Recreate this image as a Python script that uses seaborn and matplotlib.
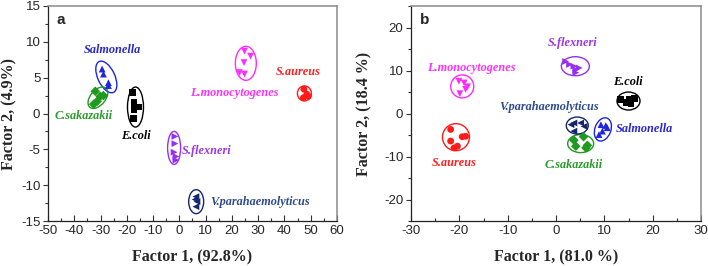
import numpy as np
import pandas as pd
import seaborn as sns
import matplotlib
matplotlib.use("Agg")
import matplotlib.pyplot as plt
from matplotlib.patches import Ellipse
from matplotlib.ticker import MultipleLocator
import matplotlib.transforms as mtransforms

# ---------------- data ----------------
species = ["Salmonella", "C.sakazakii", "E.coli", "S.flexneri",
           "V.parahaemolyticus", "L.monocytogenes", "S.aureus"]

# panel a (Factor 1 92.8%, Factor 2 4.9%)
a_x = {
    "Salmonella": [-29.4, -28.9, -27.0, -27.0],
    "C.sakazakii": [-32.0, -30.1, -28.9, -31.3, -32.6],
    "E.coli": [-17.9, -17.3, -15.4, -17.3, -17.5],
    "S.flexneri": [-1.7, -1.7, -2.0, -1.3, -1.3],
    "V.parahaemolyticus": [6.3, 6.7, 6.3, 6.0],
    "L.monocytogenes": [24.8, 27.1, 24.6, 22.9, 24.8],
    "S.aureus": [47.4, 48.5, 47.2, 49.1],
}
a_y = {
    "Salmonella": [6.2, 5.5, 4.3, 3.9],
    "C.sakazakii": [3.1, 2.4, 2.5, 1.7, 1.3],
    "E.coli": [2.9, 1.5, 0.9, 0.6, -0.7],
    "S.flexneri": [-3.2, -4.2, -5.4, -6.0, -6.5],
    "V.parahaemolyticus": [-11.6, -12.3, -13.0, -12.0],
    "L.monocytogenes": [8.7, 8.0, 7.1, 5.7, 5.5],
    "S.aureus": [3.4, 2.7, 2.2, 2.4],
}
# panel b (Factor 1 81.0%, Factor 2 18.4%)
b_x = {
    "Salmonella": [9.3, 10.3, 9.6, 8.9, 10.6],
    "C.sakazakii": [3.7, 5.7, 4.1, 6.5, 6.2],
    "E.coli": [13.4, 14.5, 15.1, 16.2, 15.5],
    "S.flexneri": [2.0, 2.8, 3.7, 4.1, 4.8, 4.1],
    "V.parahaemolyticus": [3.1, 3.7, 5.1, 5.8, 3.7],
    "L.monocytogenes": [-20.1, -19.0, -18.3, -18.7, -19.9],
    "S.aureus": [-21.8, -21.8, -20.4, -21.1, -19.4, -18.7],
}
b_y = {
    "Salmonella": [-2.6, -2.8, -4.1, -4.9, -3.3],
    "C.sakazakii": [-6.2, -5.4, -7.6, -7.4, -8.0],
    "E.coli": [3.3, 2.5, 3.3, 3.4, 2.3],
    "S.flexneri": [12.1, 11.4, 11.0, 10.2, 10.6, 9.5],
    "V.parahaemolyticus": [-2.6, -2.2, -2.2, -3.0, -4.1],
    "L.monocytogenes": [7.5, 7.1, 6.2, 5.6, 4.6],
    "S.aureus": [-3.7, -6.4, -7.6, -8.0, -5.4, -5.3],
}

# group label positions (data coords)
a_label_xy = {
    "Salmonella": (-25.5, 8.9), "C.sakazakii": (-36.6, -0.4),
    "E.coli": (-16.7, -3.2), "S.flexneri": (10.2, -5.3),
    "V.parahaemolyticus": (30.8, -12.3), "L.monocytogenes": (20.9, 2.9),
    "S.aureus": (45.4, 5.8),
}
b_label_xy = {
    "Salmonella": (18.2, -3.7), "C.sakazakii": (3.7, -11.9),
    "E.coli": (14.8, 7.3), "S.flexneri": (3.4, 16.4),
    "V.parahaemolyticus": (-1.4, 1.6), "L.monocytogenes": (-17.6, 10.5),
    "S.aureus": (-21.1, -11.5),
}
# enclosing ellipses: centre (data), width/height in pixels, angle
a_ell = {
    "Salmonella": (-27.8, 5.1, 17, 34, 25),
    "C.sakazakii": (-31.0, 2.2, 15, 25, -40),
    "E.coli": (-16.7, 0.9, 16, 40, 0),
    "S.flexneri": (-2.0, -4.8, 13, 33, 0),
    "V.parahaemolyticus": (6.4, -12.3, 15, 24, 0),
    "L.monocytogenes": (25.3, 7.0, 21, 34, 0),
    "S.aureus": (47.6, 2.8, 14, 15, 0),
}
b_ell = {
    "Salmonella": (9.7, -3.7, 16, 24, -20),
    "C.sakazakii": (5.1, -7.0, 26, 18, 0),
    "E.coli": (15.0, 2.9, 23, 18, 0),
    "S.flexneri": (4.0, 11.0, 28, 19, 0),
    "V.parahaemolyticus": (4.4, -2.8, 22, 17, 0),
    "L.monocytogenes": (-19.4, 6.3, 23, 23, 0),
    "S.aureus": (-20.7, -5.5, 27, 27, 0),
}

marker_colors = {
    "Salmonella": "#1f24e0", "C.sakazakii": "#1f9a1f", "E.coli": "#000000",
    "S.flexneri": "#9530f0", "V.parahaemolyticus": "#15256e",
    "L.monocytogenes": "#ff2cff", "S.aureus": "#ff1a1a",
}
label_colors = {
    "Salmonella": "#2727cc", "C.sakazakii": "#2a9a2a", "E.coli": "#000000",
    "S.flexneri": "#9a35e8", "V.parahaemolyticus": "#2d4b8c",
    "L.monocytogenes": "#ff30ff", "S.aureus": "#ff2020",
}
markers = {
    "Salmonella": "^", "C.sakazakii": "D", "E.coli": "s", "S.flexneri": ">",
    "V.parahaemolyticus": "<", "L.monocytogenes": "v", "S.aureus": "o",
}


def to_df(xd, yd):
    rows = []
    for sp in species:
        for x, y in zip(xd[sp], yd[sp]):
            rows.append((sp, x, y))
    return pd.DataFrame(rows, columns=["species", "f1", "f2"])


df_a = to_df(a_x, a_y)
df_b = to_df(b_x, b_y)

# ---------------- figure ----------------
sns.set_style("ticks")
plt.rcParams["font.family"] = ["Liberation Sans", "DejaVu Sans"]

W, H = 708, 266
fig = plt.figure(figsize=(W / 100, H / 100), dpi=100)
ax_a = fig.add_axes([48 / W, 1 - 221 / H, 289 / W, 215 / H])
ax_b = fig.add_axes([411 / W, 1 - 221 / H, 290 / W, 215 / H])

serif = ["Liberation Serif", "DejaVu Serif"]


def draw(ax, df, ells, labels, xlim, ylim, xmaj, xmin, ymaj, ymin,
         xlabel, ylabel, letter, ylab_x):
    sns.scatterplot(data=df, x="f1", y="f2", hue="species", style="species",
                    palette=marker_colors, markers=markers, s=24,
                    edgecolor="none", legend=False, ax=ax, zorder=3)
    for sp in species:
        cx, cy, w, h, ang = ells[sp]
        tr = fig.dpi_scale_trans + mtransforms.ScaledTranslation(cx, cy, ax.transData)
        e = Ellipse((0, 0), w / 100, h / 100, angle=ang, transform=tr,
                    fill=False, edgecolor=marker_colors[sp], lw=1.0, zorder=2)
        ax.add_patch(e)
        lx, ly = labels[sp]
        ax.text(lx, ly, sp, color=label_colors[sp], family=serif,
                style="italic", weight="bold", fontsize=8.8,
                ha="center", va="center", zorder=4)
    ax.set_xlim(*xlim)
    ax.set_ylim(*ylim)
    ax.xaxis.set_major_locator(MultipleLocator(xmaj))
    ax.xaxis.set_minor_locator(MultipleLocator(xmin))
    ax.yaxis.set_major_locator(MultipleLocator(ymaj))
    ax.yaxis.set_minor_locator(MultipleLocator(ymin))
    ax.tick_params(axis="x", which="both", direction="in", top=False,
                   labelsize=9.5, color="#333333", pad=3)
    ax.tick_params(axis="x", which="major", length=4, width=0.8)
    ax.tick_params(axis="x", which="minor", length=2.5, width=0.8)
    ax.tick_params(axis="y", which="both", direction="out", right=False,
                   labelsize=9.5, color="#333333", pad=2)
    ax.tick_params(axis="y", which="major", length=3.5, width=0.8)
    ax.tick_params(axis="y", which="minor", length=2, width=0.8)
    ax.xaxis.set_major_formatter(matplotlib.ticker.FuncFormatter(
        lambda v, p: f"{v:.0f}".replace("\u2212", "-")))
    ax.yaxis.set_major_formatter(matplotlib.ticker.FuncFormatter(
        lambda v, p: f"{v:.0f}".replace("\u2212", "-")))
    for side in ["left", "bottom"]:
        ax.spines[side].set_color("#222222")
        ax.spines[side].set_linewidth(0.9)
    for side in ["top", "right"]:
        ax.spines[side].set_visible(True)
        ax.spines[side].set_color("#8a8a8a")
        ax.spines[side].set_linewidth(1.1)
    ax.set_xlabel(xlabel, family=serif, weight="bold", fontsize=11.5, labelpad=9)
    ax.set_ylabel(ylabel, family=serif, weight="bold", fontsize=11.5)
    ax.yaxis.set_label_coords(ylab_x, 0.5)
    ax.yaxis.label.set_va("center")
    ax.text(0.03, 0.935, letter, transform=ax.transAxes, weight="bold",
            fontsize=11, ha="left", va="center")


draw(ax_a, df_a, a_ell, a_label_xy, (-50, 60), (-15, 15), 10, 5, 5, 2.5,
     "Factor 1, (92.8%)", "Factor 2, (4.9%)", "a", (9 - 48) / 289)
draw(ax_b, df_b, b_ell, b_label_xy, (-30, 30), (-25, 25), 10, 5, 10, 5,
     "Factor 1, (81.0 %)", "Factor 2, (18.4 %)", "b", (364 - 411) / 290)

fig.savefig("out.png", dpi=100)
